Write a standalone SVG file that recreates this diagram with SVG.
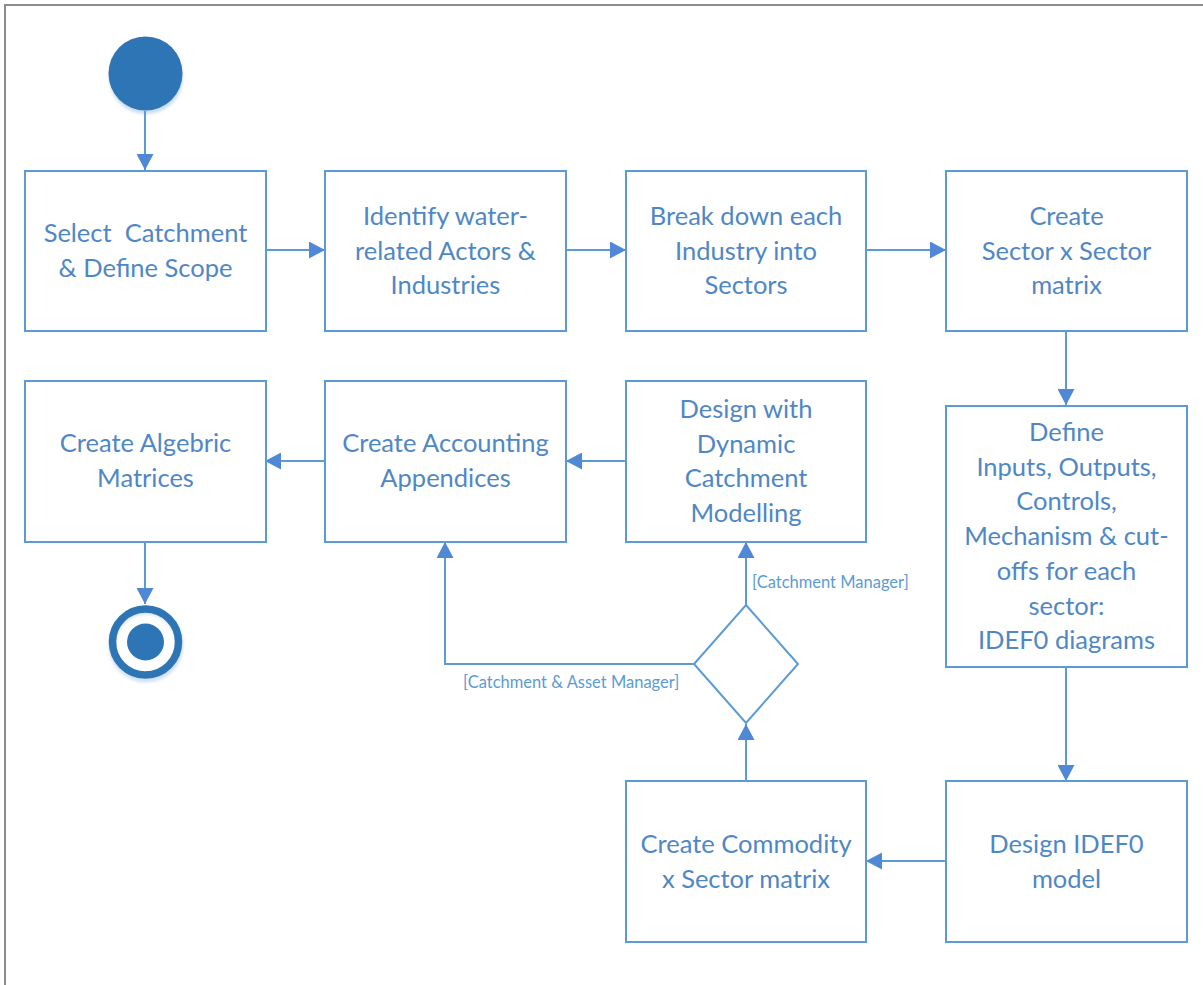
<svg xmlns="http://www.w3.org/2000/svg" width="1203" height="985" viewBox="0 0 1203 985">
  <defs>
    <marker id="arrow" markerUnits="userSpaceOnUse" markerWidth="17" markerHeight="17" refX="16" refY="8.5" orient="auto">
      <path d="M0,0 L16,8.5 L0,17 Z" fill="#4f89d6"/>
    </marker>
    <filter id="soft" x="-20%" y="-20%" width="140%" height="150%">
      <feGaussianBlur stdDeviation="1.5"/>
    </filter>
  </defs>
  <style>
    .frame { fill: none; stroke: #8c8c8c; stroke-width: 2; }
    .box { fill: #ffffff; stroke: #5b9bd5; stroke-width: 2; }
    .edge { fill: none; stroke: #5b9bd5; stroke-width: 2; marker-end: url(#arrow); }
    .label { font-family: Lato, "Open Sans", sans-serif; font-size: 25.5px; fill: #4f87c6; text-anchor: middle; white-space: pre; }
    .guard { font-family: Lato, "Open Sans", sans-serif; font-size: 16.5px; fill: #5b9bd5; }
  </style>

  <rect width="1203" height="985" fill="#ffffff"/>
  <path class="frame" d="M5,985 V5 H1203"/>

  <!-- start / end states -->
  <g id="start">
    <circle cx="146" cy="77" r="37" fill="#c9dcf0" filter="url(#soft)"/>
    <circle cx="145.5" cy="73.5" r="37" fill="#2e75b6"/>
  </g>
  <g id="end">
    <circle cx="146" cy="645" r="34" fill="none" stroke="#d3e2f2" stroke-width="7" filter="url(#soft)"/>
    <circle cx="145.5" cy="642" r="33" fill="none" stroke="#2e75b6" stroke-width="7.5"/>
    <circle cx="145.5" cy="642" r="18.5" fill="#2e75b6"/>
  </g>

  <!-- connectors -->
  <g id="connectors">
    <path class="edge" d="M145,111 V170"/>
    <path class="edge" d="M266,250 H325"/>
    <path class="edge" d="M566,250 H626"/>
    <path class="edge" d="M866,250 H946"/>
    <path class="edge" d="M1066,331 V405"/>
    <path class="edge" d="M1066,667 V781"/>
    <path class="edge" d="M946,861 H866"/>
    <path class="edge" d="M746,781 V724"/>
    <path class="edge" d="M746,605 V542"/>
    <path class="edge" d="M694,664 H445 V542"/>
    <path class="edge" d="M626,461 H566"/>
    <path class="edge" d="M325,461 H265"/>
    <path class="edge" d="M145,542 V604"/>
    <text class="guard" x="752" y="588">[Catchment Manager]</text>
    <text class="guard" x="463" y="688">[Catchment &amp; Asset Manager]</text>
  </g>

  <!-- activities -->
  <g id="select-catchment">
    <rect class="box" x="25" y="171" width="241" height="160"/>
    <text class="label" xml:space="preserve"><tspan x="145.5" y="242">Select  Catchment</tspan><tspan x="145.5" y="277">&amp; Define Scope</tspan></text>
  </g>
  <g id="identify-actors">
    <rect class="box" x="325" y="171" width="241" height="160"/>
    <text class="label"><tspan x="445.5" y="225">Identify water-</tspan><tspan x="445.5" y="259.5">related Actors &amp;</tspan><tspan x="445.5" y="294">Industries</tspan></text>
  </g>
  <g id="break-down">
    <rect class="box" x="626" y="171" width="240" height="160"/>
    <text class="label"><tspan x="746" y="225">Break down each</tspan><tspan x="746" y="259.5">Industry into</tspan><tspan x="746" y="294">Sectors</tspan></text>
  </g>
  <g id="sector-matrix">
    <rect class="box" x="946" y="171" width="241" height="160"/>
    <text class="label"><tspan x="1066.5" y="225">Create</tspan><tspan x="1066.5" y="259.5">Sector x Sector</tspan><tspan x="1066.5" y="294">matrix</tspan></text>
  </g>
  <g id="define-idef0">
    <rect class="box" x="946" y="406" width="241" height="261"/>
    <text class="label"><tspan x="1066.5" y="441">Define</tspan><tspan x="1066.5" y="475.7">Inputs, Outputs,</tspan><tspan x="1066.5" y="510.4">Controls,</tspan><tspan x="1066.5" y="545.1">Mechanism &amp; cut-</tspan><tspan x="1066.5" y="579.8">offs for each</tspan><tspan x="1066.5" y="614.5">sector:</tspan><tspan x="1066.5" y="649.2">IDEF0 diagrams</tspan></text>
  </g>
  <g id="design-idef0">
    <rect class="box" x="946" y="781" width="241" height="161"/>
    <text class="label"><tspan x="1066.5" y="853">Design IDEF0</tspan><tspan x="1066.5" y="887.5">model</tspan></text>
  </g>
  <g id="commodity-matrix">
    <rect class="box" x="626" y="781" width="240" height="161"/>
    <text class="label"><tspan x="746" y="853">Create Commodity</tspan><tspan x="746" y="887.5">x Sector matrix</tspan></text>
  </g>
  <g id="decision">
    <path class="box" d="M746,605 L798,664 L746,723 L694,664 Z"/>
  </g>
  <g id="dynamic-modelling">
    <rect class="box" x="626" y="381" width="240" height="161"/>
    <text class="label"><tspan x="746" y="418">Design with</tspan><tspan x="746" y="452.5">Dynamic</tspan><tspan x="746" y="487">Catchment</tspan><tspan x="746" y="521.5">Modelling</tspan></text>
  </g>
  <g id="accounting-appendices">
    <rect class="box" x="325" y="381" width="241" height="161"/>
    <text class="label"><tspan x="445.5" y="452">Create Accounting</tspan><tspan x="445.5" y="487">Appendices</tspan></text>
  </g>
  <g id="algebric-matrices">
    <rect class="box" x="25" y="381" width="241" height="161"/>
    <text class="label"><tspan x="145.5" y="452">Create Algebric</tspan><tspan x="145.5" y="487">Matrices</tspan></text>
  </g>
</svg>
